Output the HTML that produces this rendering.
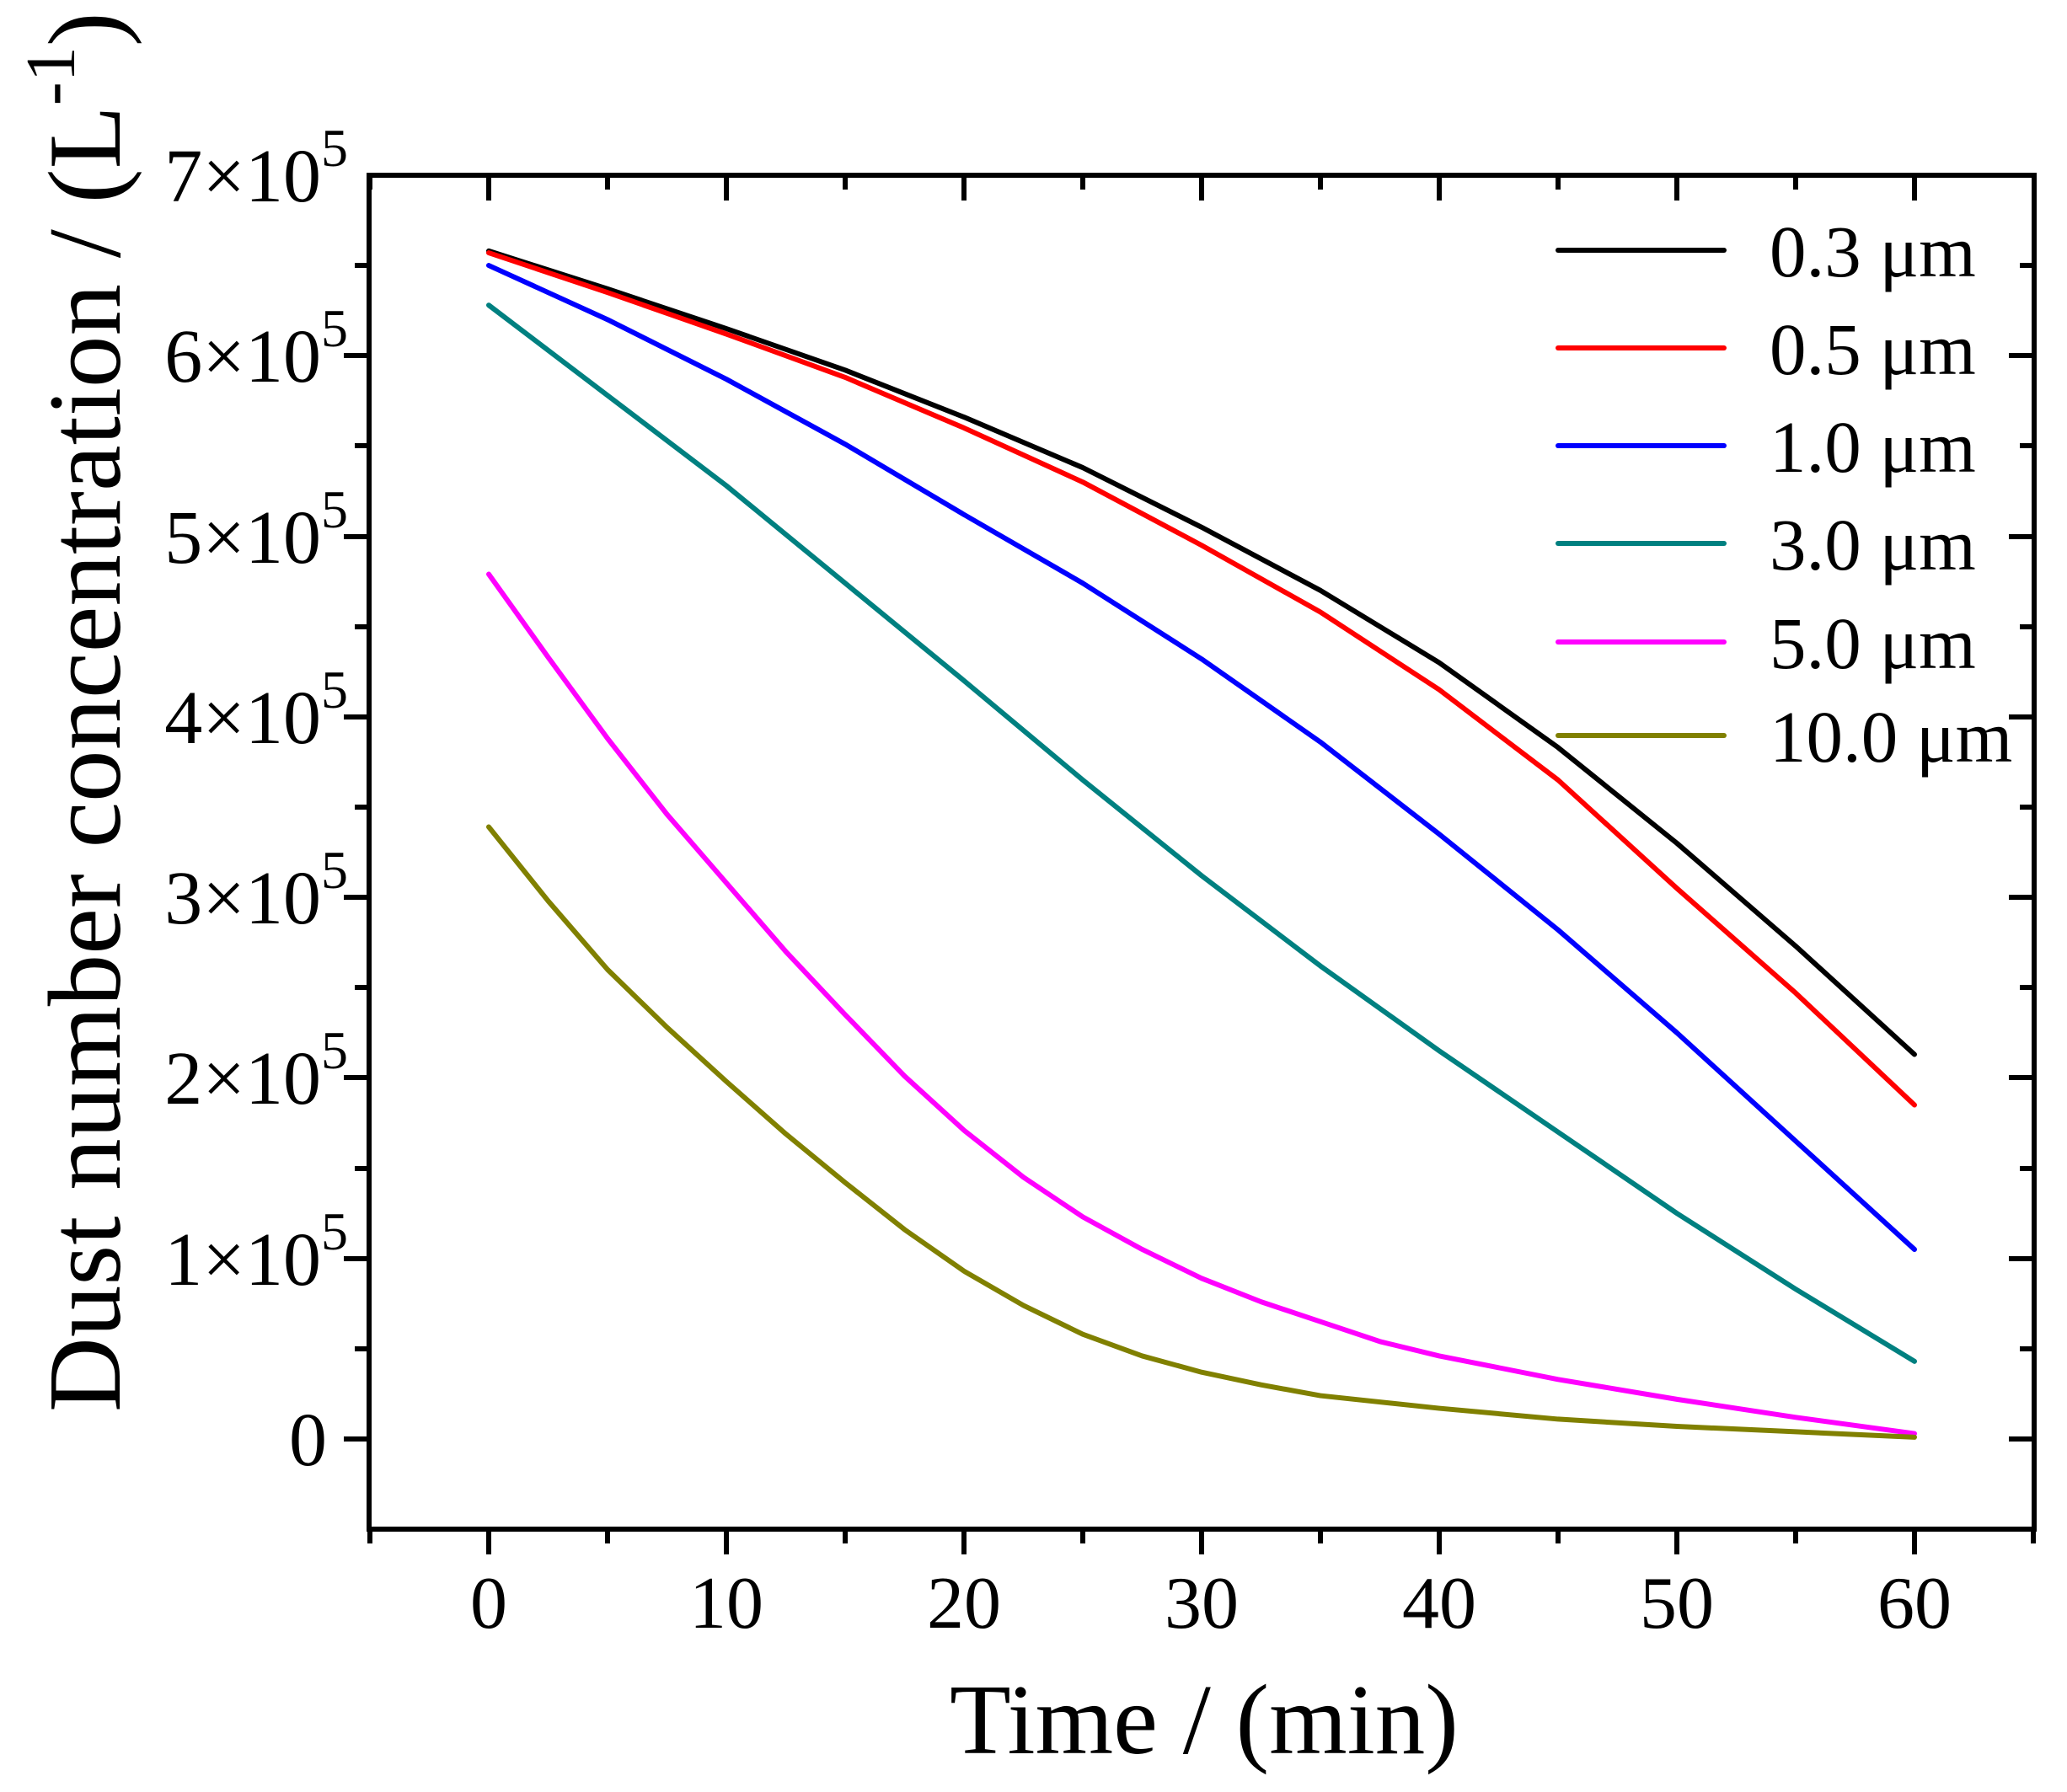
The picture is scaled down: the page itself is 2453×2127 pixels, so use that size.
<!DOCTYPE html>
<html><head><meta charset="utf-8"><style>
html,body{margin:0;padding:0;background:#fff;}
svg{display:block;font-family:"Liberation Serif",serif;}
</style></head><body>
<svg width="2453" height="2127" viewBox="0 0 2453 2127" xmlns="http://www.w3.org/2000/svg">
<rect width="2453" height="2127" fill="#fff"/>
<g transform="matrix(28.2 0 0 -214.3 580 1708)" fill="none" stroke-linejoin="round" stroke-linecap="round">
<polyline vector-effect="non-scaling-stroke" stroke-width="6" stroke="#000" points="0,6.58 5,6.37 10,6.15 15,5.92 20,5.66 25,5.38 30,5.05 35,4.7 40,4.3 45,3.83 50,3.3 55,2.73 60,2.13"/>
<polyline vector-effect="non-scaling-stroke" stroke-width="6" stroke="#ff0000" points="0,6.57 5,6.35 10,6.12 15,5.88 20,5.6 25,5.3 30,4.95 35,4.58 40,4.15 45,3.65 50,3.05 55,2.47 60,1.85"/>
<polyline vector-effect="non-scaling-stroke" stroke-width="6" stroke="#0000ff" points="0,6.5 5,6.2 10,5.87 15,5.51 20,5.12 25,4.74 30,4.32 35,3.86 40,3.35 45,2.82 50,2.25 55,1.65 60,1.05"/>
<polyline vector-effect="non-scaling-stroke" stroke-width="6" stroke="#008080" points="0,6.28 5,5.78 10,5.28 15,4.74 20,4.2 25,3.65 30,3.12 35,2.62 40,2.15 45,1.7 50,1.25 55,0.83 60,0.43"/>
<polyline vector-effect="non-scaling-stroke" stroke-width="6" stroke="#ff00ff" points="0,4.79 2.5,4.33 5,3.88 7.5,3.46 10,3.08 12.5,2.7 15,2.35 17.5,2.01 20,1.71 22.5,1.45 25,1.23 27.5,1.05 30,0.89 32.5,0.76 35,0.65 37.5,0.54 40,0.46 45,0.33 50,0.22 55,0.12 60,0.03"/>
<polyline vector-effect="non-scaling-stroke" stroke-width="6" stroke="#808000" points="0,3.39 2.5,2.98 5,2.6 7.5,2.28 10,1.98 12.5,1.69 15,1.42 17.5,1.16 20,0.93 22.5,0.74 25,0.58 27.5,0.46 30,0.37 32.5,0.3 35,0.24 40,0.17 45,0.11 50,0.07 55,0.04 60,0.01"/>
</g>
<rect x="438" y="208" width="1976" height="1607" fill="none" stroke="#000" stroke-width="6"/>
<g stroke="#000" stroke-width="6">
<line x1="439" y1="1815" x2="439" y2="1832"/><line x1="439" y1="208" x2="439" y2="225"/>
<line x1="580" y1="1815" x2="580" y2="1845"/><line x1="580" y1="208" x2="580" y2="238"/>
<line x1="721" y1="1815" x2="721" y2="1832"/><line x1="721" y1="208" x2="721" y2="225"/>
<line x1="862" y1="1815" x2="862" y2="1845"/><line x1="862" y1="208" x2="862" y2="238"/>
<line x1="1003" y1="1815" x2="1003" y2="1832"/><line x1="1003" y1="208" x2="1003" y2="225"/>
<line x1="1144" y1="1815" x2="1144" y2="1845"/><line x1="1144" y1="208" x2="1144" y2="238"/>
<line x1="1285" y1="1815" x2="1285" y2="1832"/><line x1="1285" y1="208" x2="1285" y2="225"/>
<line x1="1426" y1="1815" x2="1426" y2="1845"/><line x1="1426" y1="208" x2="1426" y2="238"/>
<line x1="1567" y1="1815" x2="1567" y2="1832"/><line x1="1567" y1="208" x2="1567" y2="225"/>
<line x1="1708" y1="1815" x2="1708" y2="1845"/><line x1="1708" y1="208" x2="1708" y2="238"/>
<line x1="1849" y1="1815" x2="1849" y2="1832"/><line x1="1849" y1="208" x2="1849" y2="225"/>
<line x1="1990" y1="1815" x2="1990" y2="1845"/><line x1="1990" y1="208" x2="1990" y2="238"/>
<line x1="2131" y1="1815" x2="2131" y2="1832"/><line x1="2131" y1="208" x2="2131" y2="225"/>
<line x1="2272" y1="1815" x2="2272" y2="1845"/><line x1="2272" y1="208" x2="2272" y2="238"/>
<line x1="2413" y1="1815" x2="2413" y2="1832"/>
<line x1="438" y1="1708" x2="408" y2="1708"/><line x1="2414" y1="1708" x2="2384" y2="1708"/>
<line x1="438" y1="1494" x2="408" y2="1494"/><line x1="2414" y1="1494" x2="2384" y2="1494"/>
<line x1="438" y1="1279" x2="408" y2="1279"/><line x1="2414" y1="1279" x2="2384" y2="1279"/>
<line x1="438" y1="1065" x2="408" y2="1065"/><line x1="2414" y1="1065" x2="2384" y2="1065"/>
<line x1="438" y1="851" x2="408" y2="851"/><line x1="2414" y1="851" x2="2384" y2="851"/>
<line x1="438" y1="637" x2="408" y2="637"/><line x1="2414" y1="637" x2="2384" y2="637"/>
<line x1="438" y1="422" x2="408" y2="422"/><line x1="2414" y1="422" x2="2384" y2="422"/>
<line x1="438" y1="1601" x2="421" y2="1601"/><line x1="2414" y1="1601" x2="2397" y2="1601"/>
<line x1="438" y1="1387" x2="421" y2="1387"/><line x1="2414" y1="1387" x2="2397" y2="1387"/>
<line x1="438" y1="1172" x2="421" y2="1172"/><line x1="2414" y1="1172" x2="2397" y2="1172"/>
<line x1="438" y1="958" x2="421" y2="958"/><line x1="2414" y1="958" x2="2397" y2="958"/>
<line x1="438" y1="744" x2="421" y2="744"/><line x1="2414" y1="744" x2="2397" y2="744"/>
<line x1="438" y1="529" x2="421" y2="529"/><line x1="2414" y1="529" x2="2397" y2="529"/>
<line x1="438" y1="315" x2="421" y2="315"/><line x1="2414" y1="315" x2="2397" y2="315"/>
</g>
<g font-size="88" text-anchor="middle" fill="#000">
<text x="580" y="1932">0</text>
<text x="862" y="1932">10</text>
<text x="1144" y="1932">20</text>
<text x="1426" y="1932">30</text>
<text x="1708" y="1932">40</text>
<text x="1990" y="1932">50</text>
<text x="2272" y="1932">60</text>
</g>
<g font-size="90" text-anchor="end" fill="#000">
<text x="388" y="1739">0</text>
<text x="413" y="1525">1×10<tspan font-size="64" dy="-42">5</tspan></text>
<text x="413" y="1310">2×10<tspan font-size="64" dy="-42">5</tspan></text>
<text x="413" y="1096">3×10<tspan font-size="64" dy="-42">5</tspan></text>
<text x="413" y="882">4×10<tspan font-size="64" dy="-42">5</tspan></text>
<text x="413" y="668">5×10<tspan font-size="64" dy="-42">5</tspan></text>
<text x="413" y="453">6×10<tspan font-size="64" dy="-42">5</tspan></text>
<text x="413" y="239">7×10<tspan font-size="64" dy="-42">5</tspan></text>
</g>
<text x="1429" y="2081" font-size="119" text-anchor="middle" fill="#000">Time / (min)</text>
<text transform="translate(142,1676) rotate(-90)" font-size="123" fill="#000">Dust number concentration / (L<tspan font-size="84" dy="-54">-1</tspan><tspan dy="54">)</tspan></text>
<g stroke-width="6" stroke-linecap="round">
<line x1="1849" y1="297" x2="2046" y2="297" stroke="#000"/>
<line x1="1849" y1="413" x2="2046" y2="413" stroke="#ff0000"/>
<line x1="1849" y1="529" x2="2046" y2="529" stroke="#0000ff"/>
<line x1="1849" y1="645" x2="2046" y2="645" stroke="#008080"/>
<line x1="1849" y1="762" x2="2046" y2="762" stroke="#ff00ff"/>
<line x1="1849" y1="873" x2="2046" y2="873" stroke="#808000"/>
</g>
<g font-size="87" fill="#000">
<text x="2100" y="328">0.3 μm</text>
<text x="2100" y="444">0.5 μm</text>
<text x="2100" y="560">1.0 μm</text>
<text x="2100" y="676">3.0 μm</text>
<text x="2100" y="793">5.0 μm</text>
<text x="2100" y="904">10.0 μm</text>
</g>
</svg>
</body></html>
